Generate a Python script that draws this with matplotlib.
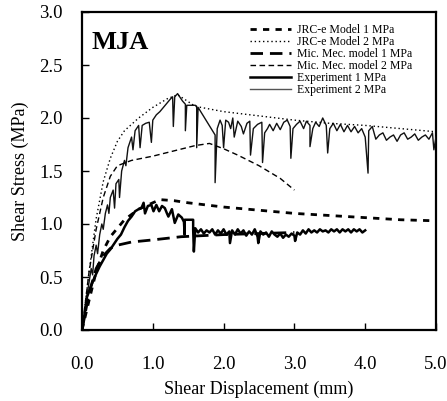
import matplotlib
matplotlib.use("Agg")
import matplotlib.pyplot as plt
from matplotlib.lines import Line2D

plt.rcParams['font.family'] = ['Liberation Serif', 'DejaVu Serif']
plt.rcParams['lines.scale_dashes'] = False

# JRC-e Model 1 MPa
jrc1_x = [0, 0.1, 0.2, 0.3, 0.4, 0.6, 0.8, 1.0, 1.1, 1.3, 1.5, 2.0, 2.5, 3.0, 3.5, 4.0, 4.5, 5.0]
jrc1_y = [0, 0.28, 0.55, 0.75, 0.88, 1.04, 1.14, 1.2, 1.23, 1.22, 1.2, 1.16, 1.13, 1.1, 1.08, 1.06, 1.04, 1.03]

# JRC-e Model 2 MPa
jrc2_x = [0, 0.1, 0.2, 0.3, 0.4, 0.5, 0.6, 0.8, 1.0, 1.2, 1.35, 1.6, 2.0, 2.5, 3.0, 3.5, 4.0, 4.5, 5.0]
jrc2_y = [0, 0.55, 1.05, 1.4, 1.62, 1.78, 1.88, 2.0, 2.1, 2.18, 2.22, 2.11, 2.06, 2.02, 1.98, 1.95, 1.93, 1.9, 1.87]

# Mic. Mec. model 1 MPa
mm1_x = [0, 0.1, 0.2, 0.3, 0.4, 0.5, 0.7, 1.0, 1.4, 2.0, 2.5, 3.0]
mm1_y = [0, 0.35, 0.58, 0.7, 0.77, 0.8, 0.83, 0.85, 0.88, 0.9, 0.91, 0.92]

# Mic. Mec. model 2 MPa
mm2_x = [0, 0.1, 0.2, 0.3, 0.4, 0.5, 0.7, 1.0, 1.3, 1.6, 1.8, 2.0, 2.2, 2.5, 2.8, 3.0]
mm2_y = [0, 0.55, 0.95, 1.25, 1.45, 1.55, 1.6, 1.64, 1.69, 1.74, 1.76, 1.71, 1.65, 1.55, 1.43, 1.32]

# Experiment 1 MPa
exp1_x = [0, 0.03, 0.07, 0.12, 0.16, 0.2, 0.25, 0.3, 0.35, 0.4, 0.44, 0.5, 0.55, 0.6, 0.65, 0.7, 0.75,
          0.8, 0.84, 0.87, 0.89, 0.93, 0.98, 1.01, 1.05, 1.09, 1.13, 1.17, 1.2, 1.22, 1.27, 1.31,
          1.36, 1.41, 1.44, 1.45, 1.45, 1.57, 1.57, 1.58, 1.6, 1.64, 1.68, 1.72, 1.76, 1.8, 1.84,
          1.88, 1.92, 1.96, 2.0, 2.04, 2.08, 2.09, 2.12, 2.16, 2.2, 2.24, 2.28, 2.32, 2.36, 2.4,
          2.44, 2.48, 2.49, 2.52, 2.56, 2.6, 2.64, 2.68, 2.72, 2.76, 2.8, 2.84, 2.88, 2.92, 2.96,
          3.0, 3.01, 3.04, 3.08, 3.12, 3.16, 3.2, 3.24, 3.28, 3.32, 3.36, 3.4, 3.44, 3.48, 3.52,
          3.56, 3.6, 3.64, 3.68, 3.72, 3.76, 3.8, 3.84, 3.88, 3.92, 3.96, 4.0]
exp1_y = [0, 0.12, 0.31, 0.4, 0.47, 0.53, 0.6, 0.66, 0.72, 0.76, 0.8, 0.86, 0.9, 0.97, 1.03, 1.07, 1.12,
          1.14, 1.15, 1.2, 1.1, 1.17, 1.18, 1.12, 1.18, 1.12, 1.17, 1.15, 1.1, 1.07, 1.14, 1.01,
          1.09, 1.06, 1.02, 0.9, 1.04, 1.04, 0.95, 0.74, 0.96, 0.92, 0.95, 0.91, 0.94, 0.92, 0.95,
          0.9, 0.94, 0.91, 0.95, 0.9, 0.93, 0.82, 0.94, 0.9, 0.95, 0.91, 0.94, 0.89, 0.93, 0.9,
          0.95, 0.88, 0.82, 0.93, 0.9, 0.92, 0.88, 0.93, 0.9, 0.88, 0.91, 0.87, 0.9, 0.88, 0.91,
          0.89, 0.84, 0.92, 0.9, 0.94, 0.91, 0.95, 0.92, 0.94, 0.92, 0.95, 0.93, 0.94, 0.92, 0.95,
          0.93, 0.95, 0.92, 0.95, 0.93, 0.95, 0.92, 0.95, 0.93, 0.95, 0.92, 0.94]

# Experiment 2 MPa
exp2_x = [0, 0.03, 0.06, 0.1, 0.13, 0.15, 0.17, 0.2, 0.22, 0.25, 0.28, 0.3, 0.33, 0.36, 0.38, 0.4,
          0.44, 0.46, 0.48, 0.52, 0.53, 0.56, 0.6, 0.62, 0.65, 0.7, 0.72, 0.75, 0.8, 0.82, 0.85,
          0.9, 0.95, 0.98, 1.0, 1.05, 1.1, 1.15, 1.2, 1.25, 1.28, 1.29, 1.31, 1.35, 1.42, 1.46,
          1.46, 1.48, 1.6, 1.62, 1.62, 1.64, 1.88, 1.88, 1.91, 1.95, 1.98, 2.0, 2.03, 2.07, 2.1,
          2.13, 2.15, 2.2, 2.25, 2.28, 2.33, 2.37, 2.38, 2.42, 2.48, 2.54, 2.55, 2.58, 2.62, 2.65,
          2.7, 2.75, 2.8, 2.85, 2.9, 2.94, 2.95, 2.98, 3.03, 3.08, 3.13, 3.17, 3.22, 3.22, 3.26,
          3.3, 3.35, 3.4, 3.45, 3.47, 3.5, 3.55, 3.6, 3.65, 3.7, 3.75, 3.8, 3.85, 3.9, 3.95, 4.0,
          4.04, 4.05, 4.1, 4.15, 4.2, 4.25, 4.3, 4.35, 4.4, 4.45, 4.5, 4.55, 4.6, 4.65, 4.7, 4.75,
          4.8, 4.85, 4.9, 4.95, 4.97, 5.0]
exp2_y = [0, 0.12, 0.28, 0.45, 0.58, 0.52, 0.7, 0.8, 0.72, 0.9, 1.0, 0.95, 1.1, 1.18, 1.1, 1.25,
          1.32, 1.15, 1.38, 1.42, 1.25, 1.5, 1.6, 1.55, 1.72, 1.82, 1.7, 1.88, 1.93, 1.72, 1.93,
          1.95, 1.96, 1.77, 1.98, 2.03, 2.06, 2.1, 2.14, 2.18, 2.2, 1.92, 2.2, 2.23, 2.16, 2.13,
          1.88, 2.12, 2.12, 2.11, 1.72, 2.1, 1.84, 1.39, 1.9, 1.98, 1.93, 1.72, 1.98, 1.96, 1.9,
          2.0, 1.82, 1.97, 1.92, 1.85, 1.95, 1.97, 1.65, 1.9, 1.94, 1.96, 1.58, 1.86, 1.9, 1.94,
          1.88, 1.95, 1.89, 1.96, 1.98, 1.92, 1.62, 1.9, 1.94, 1.97, 1.9, 1.97, 1.93, 1.73, 1.9,
          1.96, 1.92, 2.0, 1.93, 1.67, 1.9, 1.95, 1.88, 1.94, 1.87, 1.93, 1.87, 1.92, 1.86, 1.9, 1.82,
          1.48, 1.88, 1.92, 1.8, 1.84, 1.86, 1.79, 1.82, 1.84, 1.78, 1.84, 1.86, 1.8, 1.82, 1.85, 1.79,
          1.82, 1.84, 1.8, 1.86, 1.7, 1.82]

labels = ["JRC-e Model 1 MPa", "JRC-e Model 2 MPa", "Mic. Mec. model 1 MPa",
          "Mic. Mec. model 2 MPa", "Experiment 1 MPa", "Experiment 2 MPa"]
x_ticks = [0, 1, 2, 3, 4, 5]
x_ticklabels = ["0.0", "1.0", "2.0", "3.0", "4.0", "5.0"]
y_ticks = [0, 0.5, 1.0, 1.5, 2.0, 2.5, 3.0]
y_ticklabels = ["0.0", "0.5", "1.0", "1.5", "2.0", "2.5", "3.0"]

fig = plt.figure(figsize=(4.47, 4.01), dpi=100)
ax = fig.add_axes([82/447, 71/401, 354/447, 318/401])

ax.plot(exp2_x, exp2_y, color='#111111', lw=1.0, zorder=3)
ax.plot(exp1_x, exp1_y, color='black', lw=1.8, zorder=3)
l1, = ax.plot(jrc1_x, jrc1_y, color='black', lw=2.0, dashes=(4.5, 4.5), zorder=4)
l2, = ax.plot(jrc2_x, jrc2_y, color='black', lw=1.0, dashes=(1.0, 2.0), zorder=4)
l3, = ax.plot(mm1_x, mm1_y, color='black', lw=2.0, dashes=(9, 5), zorder=4)
l4, = ax.plot(mm2_x, mm2_y, color='black', lw=1.0, dashes=(4, 2.5), zorder=4)
h5 = Line2D([], [], color='black', lw=1.8)
h6 = Line2D([], [], color='#555555', lw=1.0)

leg = ax.legend([l1, l2, l3, l4, h5, h6], labels, loc='upper left',
                bbox_to_anchor=(250/447, 1 - 24/401), bbox_transform=fig.transFigure,
                frameon=False, fontsize=8.5, handlelength=3.5, handletextpad=0.45,
                labelspacing=0.0, borderpad=0, borderaxespad=0)

ax.text(0.028, 0.905, "MJA", transform=ax.transAxes, fontsize=19, fontweight='bold',
        va='center', ha='left')

ax.set_xlim(0, 5)
ax.set_ylim(0, 3)
ax.set_xticks(x_ticks)
ax.set_xticklabels(x_ticklabels)
ax.set_yticks(y_ticks)
ax.set_yticklabels(y_ticklabels)
ax.tick_params(direction='in', length=5, width=1, labelsize=13.5, top=False, right=False)
ax.tick_params(axis='y', pad=14)
ax.tick_params(axis='x', pad=19)
for s in ax.spines.values():
    s.set_linewidth(1.6)
ax.set_xlabel("Shear Displacement (mm)", fontsize=13, labelpad=5)
ax.set_ylabel("Shear Stress (MPa)", fontsize=13, labelpad=7)

fig.savefig("out.png", dpi=100)
